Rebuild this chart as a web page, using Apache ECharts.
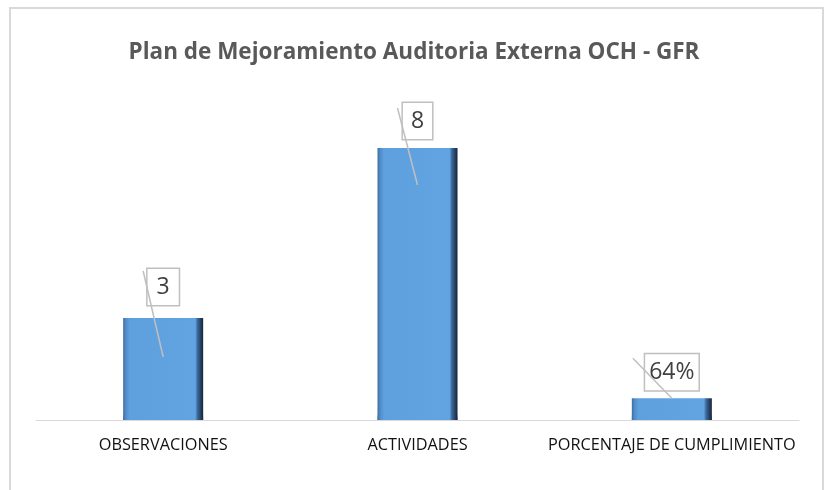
<!DOCTYPE html>
<html><head><meta charset="utf-8">
<script src="https://cdn.jsdelivr.net/npm/echarts@6/dist/echarts.min.js"></script>
<style>html,body{margin:0;padding:0;background:#fff}#c{width:828px;height:490px}</style>
</head><body><div id="c"></div>
<script>
const categories = ['OBSERVACIONES', 'ACTIVIDADES', 'PORCENTAJE DE CUMPLIMIENTO'];
const values = [3, 8, 0.64];
const labelTexts = ['3', '8', '64%'];
const titleText = 'Plan de Mejoramiento Auditoria Externa OCH - GFR';

const FONT = "'Open Sans', sans-serif";
const labelDist = [13, 9, 8];
const labelPad = [[5, 9], [5, 8], [5, 4]];
const chart = echarts.init(document.getElementById('c'));

function build(y0) {
  return {
    animation: false,
    title: {
      text: titleText, left: 'center', top: 36,
      textStyle: { fontFamily: FONT, fontWeight: 'bold', fontSize: 22.5, color: '#595959' }
    },
    grid: { left: 36, right: 29, top: 80, bottom: 70 },
    xAxis: {
      type: 'category', data: categories,
      axisLine: { lineStyle: { color: '#d9d9d9', width: 1 } },
      axisTick: { show: false },
      axisLabel: { fontFamily: FONT, fontSize: 16.3, color: '#111', margin: 17, interval: 0 }
    },
    yAxis: { type: 'value', min: 0, max: 10, show: false, splitLine: { show: false } },
    series: [
      {
        type: 'bar', barWidth: 80,
        data: values.map((v, i) => ({ value: v, label: { padding: labelPad[i] } })),
        itemStyle: {
          color: { type: 'linear', x: 0, y: 0, x2: 1, y2: 0, colorStops: [
            { offset: 0, color: '#3c6c9c' }, { offset: 0.03, color: '#4f8bc6' },
            { offset: 0.08, color: '#5e9fdd' }, { offset: 0.9, color: '#62a4e2' },
            { offset: 0.93, color: '#3a6898' }, { offset: 1, color: '#15233a' } ] }
        },
        label: {
          show: true, position: 'top',
          distance: 0,
          formatter: p => labelTexts[p.dataIndex],
          fontFamily: FONT, fontSize: 23, color: '#404040', lineHeight: 26,
          backgroundColor: '#fff', borderColor: '#bfbfbf', borderWidth: 1.5
        },
        labelLayout: p => ({ dy: -labelDist[p.dataIndex] })
      },
      {
        type: 'bar', data: values, barWidth: 80, barGap: '-100%', silent: true, z: 1,
        itemStyle: {
          color: { type: 'linear', x: 0, y: y0 - 7, x2: 0, y2: y0, global: true, colorStops: [
            { offset: 0, color: 'rgba(20,40,70,0)' }, { offset: 1, color: 'rgba(20,40,70,0.85)' } ] }
        }
      }
    ]
  };
}

chart.setOption(build(420));
const y0 = chart.convertToPixel({ yAxisIndex: 0 }, 0);
chart.setOption(build(y0));

// leader lines (Excel-style) computed from bar positions
const lead = [
  { sx: -20, sy: -47, ey: 39 },
  { sx: -20, sy: -40, ey: 37 },
  { sx: -39, sy: -40, ey: 0 }
];
const graphics = [{
  type: 'rect', shape: { x: 10, y: 8, width: 813, height: 490 },
  style: { fill: 'none', stroke: '#d9d9d9', lineWidth: 2 }, z: 0
}];
values.forEach((v, i) => {
  const p = chart.convertToPixel({ seriesIndex: 0 }, [i, v]);
  graphics.push({
    type: 'line', z: 100,
    shape: { x1: p[0] + lead[i].sx, y1: p[1] + lead[i].sy, x2: p[0], y2: p[1] + lead[i].ey },
    style: { stroke: '#bfbfbf', lineWidth: 1.5 }
  });
});
chart.setOption({ graphic: graphics });
</script>
</body></html>
